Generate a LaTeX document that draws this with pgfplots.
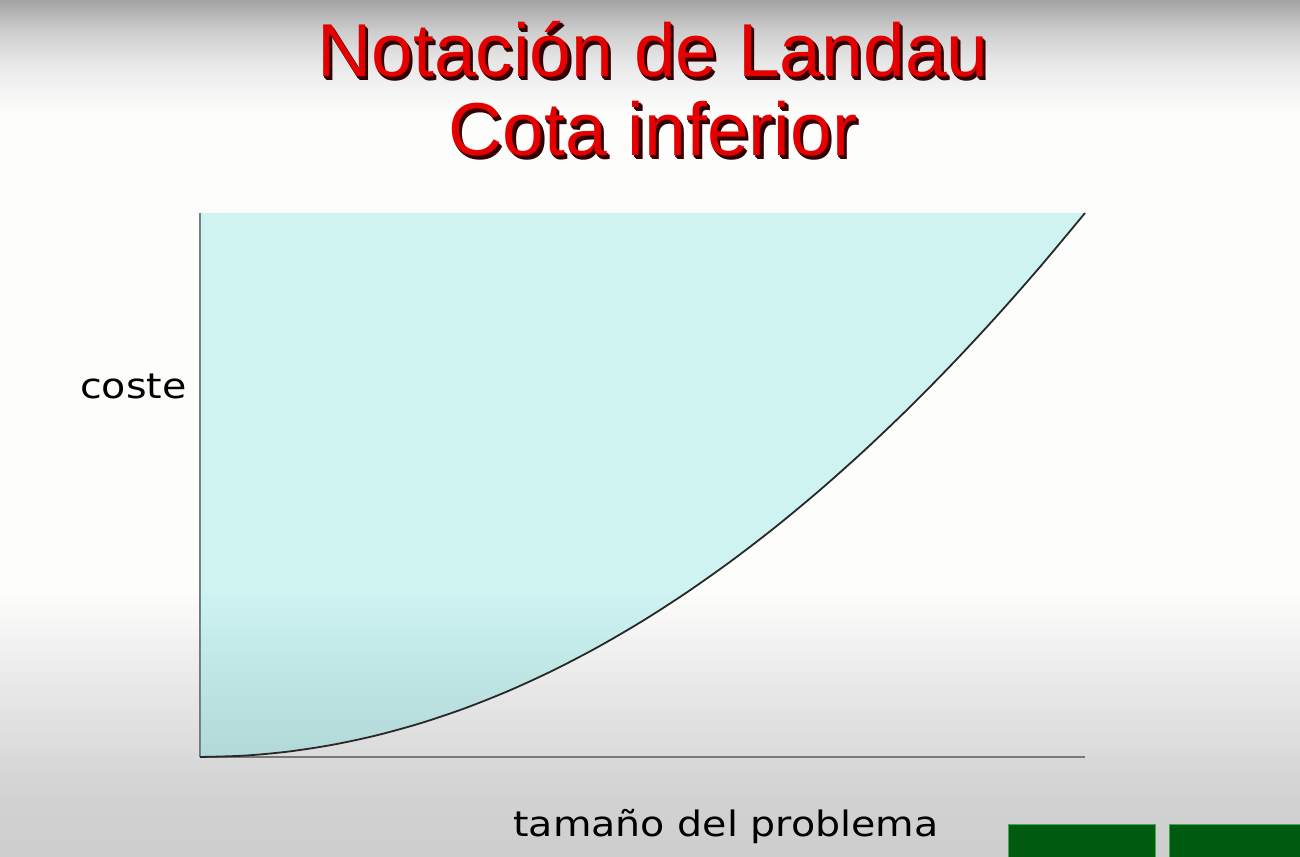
\documentclass[border=0pt]{standalone}
\usepackage{pgfplots}
\pgfplotsset{compat=1.18}
\usepackage{fontspec}
\setmainfont{Liberation Sans}
\newfontfamily\dejavu[FakeStretch=1.13]{DejaVu Sans}
\definecolor{titlered}{RGB}{228,0,0}
\definecolor{titleshadow}{RGB}{50,0,0}
\definecolor{fillcyan}{RGB}{40,210,210}
\definecolor{boxgreen}{RGB}{0,90,15}
\definecolor{boxedge}{RGB}{60,170,90}
\definecolor{axisgray}{RGB}{120,120,120}
\definecolor{curvegray}{RGB}{40,40,40}
\pgfdeclareverticalshading{bg}{650bp}{%
 rgb(0bp)=(.81,.81,.81);
 rgb(28.5bp)=(.82,.82,.82);
 rgb(78.5bp)=(.90,.90,.90);
 rgb(108.5bp)=(.95,.95,.95);
 rgb(133.5bp)=(.993,.993,.985);
 rgb(371bp)=(.993,.993,.985);
 rgb(383.5bp)=(.96,.96,.96);
 rgb(398.5bp)=(.90,.90,.90);
 rgb(413.5bp)=(.80,.80,.80);
 rgb(428.5bp)=(.64,.64,.64)}
\pgfplotstableread{
x y
0 0
0.5 0.25
1 1
1.5 2.25
2 4
2.5 6.25
3 9
3.5 12.25
4 16
4.5 20.25
5 25
5.5 30.25
6 36
6.5 42.25
7 49
7.5 56.25
8 64
8.5 72.25
9 81
9.5 90.25
10 100
}\curvedata
\begin{document}
\begin{tikzpicture}
\path[use as bounding box] (0,0) rectangle (650bp,428.5bp);
\node[inner sep=0pt, outer sep=0pt, anchor=south west] at (0,0) {\pgfuseshading{bg}};
% title
\begin{scope}[font=\fontsize{37.5bp}{39.5bp}\selectfont]
\foreach \d in {0.6,1.1,1.6} {
\node[anchor=base, inner sep=0pt, text=titleshadow] at (326.5bp+\d bp,390bp-\d bp) {Notación de Landau};
\node[anchor=base, inner sep=0pt, text=titleshadow] at (326.5bp+\d bp,350.5bp-\d bp) {Cota inferior};
}
\node[anchor=base, inner sep=0pt, text=titlered] at (326.5bp,390bp) {Notación de Landau};
\node[anchor=base, inner sep=0pt, text=titlered] at (326.5bp,350.5bp) {Cota inferior};
\end{scope}
% labels
\node[anchor=base east, inner sep=0pt, font=\dejavu\fontsize{17.5bp}{20bp}\selectfont] at (93.5bp,229bp) {coste};
\node[anchor=base, inner sep=0pt, font=\dejavu\fontsize{17.5bp}{20bp}\selectfont] at (363bp,10.2bp) {tamaño del problema};
% green boxes
\fill[boxgreen, draw=boxedge, line width=0.4bp] (504bp,-1bp) rectangle (577.5bp,16.5bp);
\fill[boxgreen, draw=boxedge, line width=0.4bp] (584.5bp,-1bp) rectangle (651bp,16.5bp);
\begin{axis}[
  at={(100bp,50bp)}, anchor=origin,
  scale only axis, width=442.5bp, height=272bp,
  xmin=0, xmax=10, ymin=0, ymax=100,
  axis x line*=bottom, axis y line*=left,
  axis line style={draw=axisgray, line width=0.6bp, -},
  xtick=\empty, ytick=\empty,
  clip=false,
]
\addplot[draw=none, fill=fillcyan, fill opacity=0.22] table[x=x,y=y] {\curvedata} -- (axis cs:0,100) -- cycle;
\addplot[smooth, draw=curvegray, line width=0.9bp] table[x=x,y=y] {\curvedata};
\end{axis}
\end{tikzpicture}
\end{document}
